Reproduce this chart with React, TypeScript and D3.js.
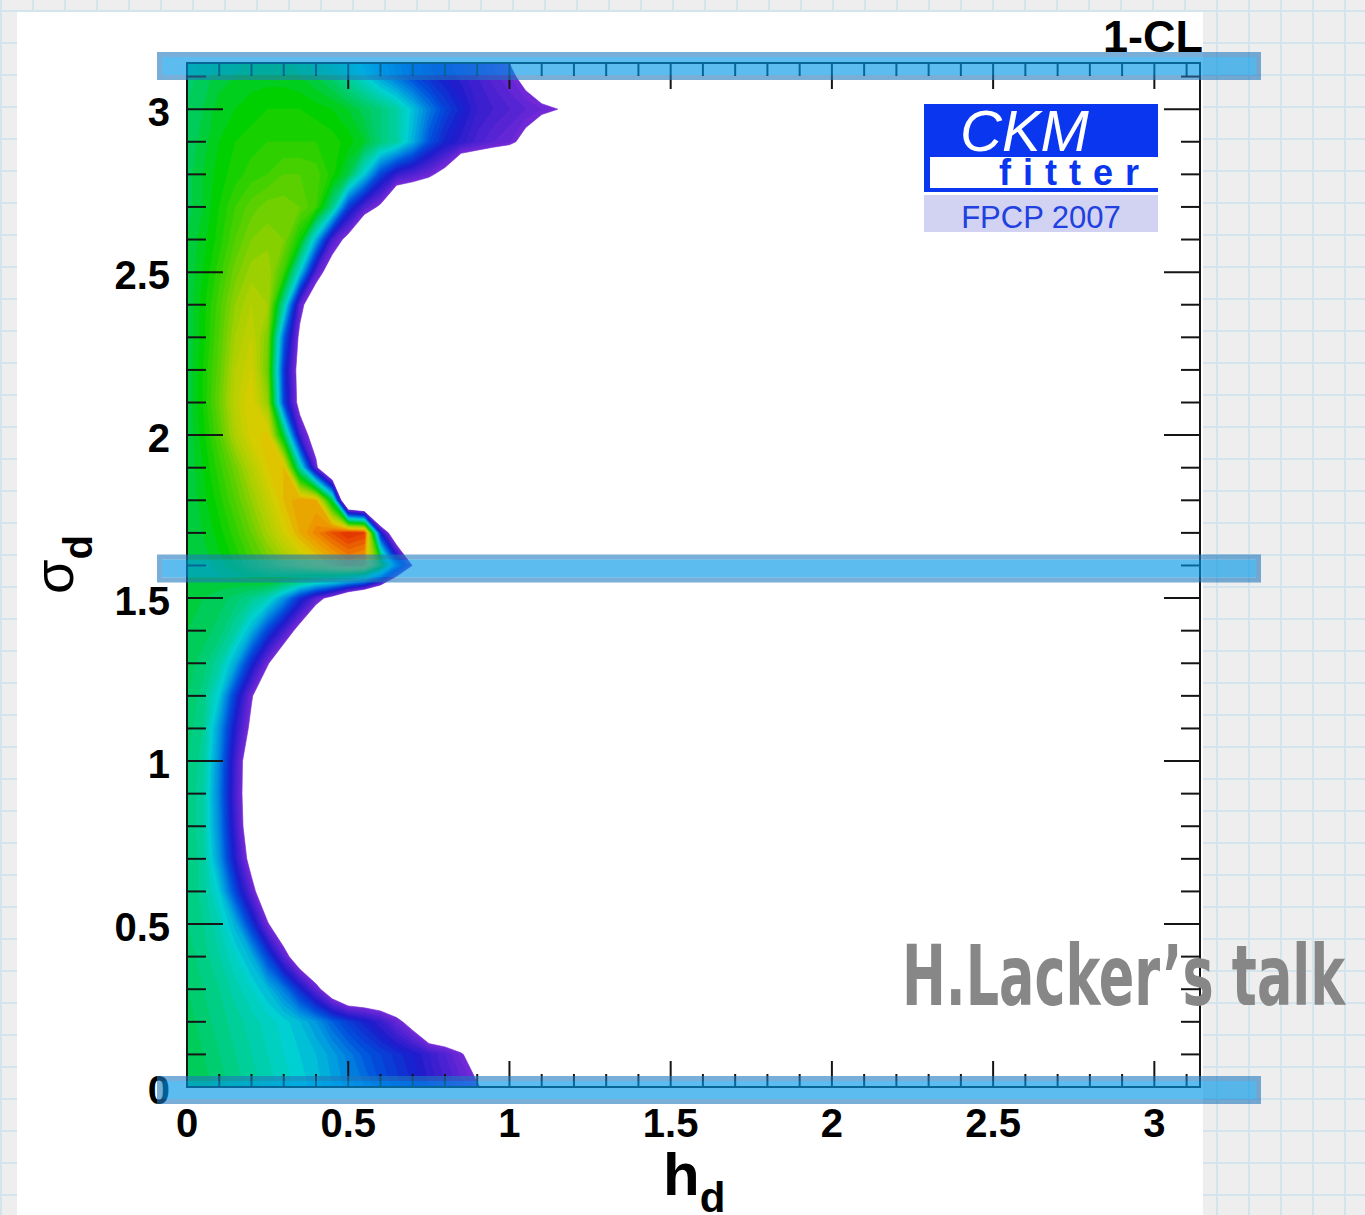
import React from 'react';
import * as d3 from 'd3';

// 1-CL on a regular grid.
// columns: h_d = 0, 0.05, ... 1.2   rows: sigma_d = 0, 0.1, ... 3.2
// E = empty bin (below the palette, drawn white)
const E = -0.2;
const hStep = 0.05;
const sigmaStep = 0.1;
const clRows: number[][] = [
  [.50, .49, .47, .45, .43, .41, .39, .37, .35, .32, .29, .26, .22, .19, .16, .12, .08, .05, .01, -.05, E, E, E, E, E],
  [.50, .48, .46, .44, .42, .40, .38, .36, .34, .31, .27, .23, .20, .17, .14, .10, .06, .01, -.06, E, E, E, E, E, E],
  [.49, .47, .45, .43, .41, .39, .37, .34, .30, .24, .19, .15, .10, .03, -.05, E, E, E, E, E, E, E, E, E, E],
  [.48, .46, .44, .41, .38, .34, .27, .16, .04, -.10, E, E, E, E, E, E, E, E, E, E, E, E, E, E, E],
  [.47, .45, .42, .38, .33, .20, .05, -.10, E, E, E, E, E, E, E, E, E, E, E, E, E, E, E, E, E],
  [.46, .44, .40, .33, .18, .01, -.12, E, E, E, E, E, E, E, E, E, E, E, E, E, E, E, E, E, E],
  [.46, .43, .36, .20, .04, -.12, E, E, E, E, E, E, E, E, E, E, E, E, E, E, E, E, E, E, E],
  [.46, .43, .30, .12, -.05, E, E, E, E, E, E, E, E, E, E, E, E, E, E, E, E, E, E, E, E],
  [.46, .42, .28, .09, -.10, E, E, E, E, E, E, E, E, E, E, E, E, E, E, E, E, E, E, E, E],
  [.46, .42, .27, .07, -.10, E, E, E, E, E, E, E, E, E, E, E, E, E, E, E, E, E, E, E, E],
  [.46, .43, .28, .08, -.10, E, E, E, E, E, E, E, E, E, E, E, E, E, E, E, E, E, E, E, E],
  [.47, .44, .30, .12, -.03, E, E, E, E, E, E, E, E, E, E, E, E, E, E, E, E, E, E, E, E],
  [.48, .45, .36, .18, .01, -.12, E, E, E, E, E, E, E, E, E, E, E, E, E, E, E, E, E, E, E],
  [.49, .47, .42, .32, .16, .01, -.12, E, E, E, E, E, E, E, E, E, E, E, E, E, E, E, E, E, E],
  [.50, .49, .47, .42, .33, .20, .08, -.05, E, E, E, E, E, E, E, E, E, E, E, E, E, E, E, E, E],
  [.50, .50, .49, .47, .44, .40, .30, .17, .05, -.05, -.20, -.30, -.40, -.50, -.60, E, E, E, E, E, E, E, E, E, E],
  [.50, .51, .53, .56, .60, .64, .68, .72, .76, .80, .84, .82, .60, .25, -.01, -.15, E, E, E, E, E, E, E, E, E],
  [.50, .52, .55, .59, .64, .70, .76, .82, .87, .92, .96, .94, .15, -.15, -.20, E, E, E, E, E, E, E, E, E, E],
  [.50, .53, .57, .62, .68, .74, .80, .84, .82, .50, -.40, -.50, -.60, E, E, E, E, E, E, E, E, E, E, E, E],
  [.50, .54, .59, .65, .72, .78, .80, .42, .03, -.30, E, E, E, E, E, E, E, E, E, E, E, E, E, E, E],
  [.50, .55, .62, .71, .77, .79, .50, .08, -.08, E, E, E, E, E, E, E, E, E, E, E, E, E, E, E, E],
  [.50, .56, .64, .73, .78, .68, .20, -.05, E, E, E, E, E, E, E, E, E, E, E, E, E, E, E, E, E],
  [.50, .56, .63, .72, .76, .64, .18, -.06, E, E, E, E, E, E, E, E, E, E, E, E, E, E, E, E, E],
  [.50, .55, .62, .70, .74, .66, .24, -.03, E, E, E, E, E, E, E, E, E, E, E, E, E, E, E, E, E],
  [.50, .55, .61, .68, .72, .70, .42, .04, -.12, E, E, E, E, E, E, E, E, E, E, E, E, E, E, E, E],
  [.50, .54, .59, .65, .69, .70, .60, .36, .06, -.08, E, E, E, E, E, E, E, E, E, E, E, E, E, E, E],
  [.50, .53, .57, .62, .66, .67, .66, .56, .33, .07, -.04, E, E, E, E, E, E, E, E, E, E, E, E, E, E],
  [.49, .52, .56, .60, .63, .65, .65, .64, .60, .45, .19, .06, -.02, E, E, E, E, E, E, E, E, E, E, E, E],
  [.49, .52, .55, .57, .59, .60, .62, .62, .61, .57, .50, .36, .20, .10, .06, .02, -.04, E, E, E, E, E, E, E, E],
  [.48, .51, .54, .56, .57, .58, .58, .58, .58, .57, .55, .52, .46, .42, .33, .22, .15, .11, .07, .04, .02, -.03, -.10, -.15, E],
  [.48, .50, .53, .54, .55, .56, .56, .56, .55, .54, .52, .49, .46, .42, .35, .27, .20, .15, .10, .08, .06, .04, .02, .00, -.08],
  [.47, .49, .51, .52, .53, .53, .53, .52, .50, .47, .42, .37, .31, .26, .21, .17, .14, .11, .08, .05, .02, -.03, -.10, -.15, E],
  [.47, .49, .50, .51, .52, .52, .52, .50, .47, .43, .38, .33, .28, .23, .19, .15, .12, .09, .06, .02, -.03, -.10, -.15, E, E],
];

const xTickLabels = ['0', '0.5', '1', '1.5', '2', '2.5', '3'];
const yTickLabels = ['0', '0.5', '1', '1.5', '2', '2.5', '3'];
// sigma_d rows marked by the blue bars on the slide
const markedRows = [0, 1.6, Math.PI];

// ROOT-like rainbow palette for 1-CL
const paletteStops = [0, 0.07, 0.14, 0.22, 0.3, 0.37, 0.43, 0.49, 0.55, 0.62, 0.7, 0.78, 0.86, 0.93, 1];
const paletteColors = ['#782ad8', '#4a22d2', '#1a1ccc', '#0050dc', '#0096e0', '#00d0d2', '#00cf9a', '#00cc5a',
  '#00d000', '#50d000', '#a8d000', '#dccc00', '#f09000', '#e84800', '#d81000'];

const W = 1365;
const H = 1215;
const font = "'Liberation Sans', Arial, Helvetica, sans-serif";

const App = () => {
  const x = d3.scaleLinear().domain([0, Math.PI]).range([187, 1200]);
  const y = d3.scaleLinear().domain([0, Math.PI]).range([1087, 63]);
  const color = d3.scaleLinear<string>().domain(paletteStops).range(paletteColors).interpolate(d3.interpolateRgb);

  const nx = clRows[0].length;
  const ny = clRows.length;
  const levels = d3.range(0, 1, 0.02);
  const bands = d3.contours().size([nx, ny]).thresholds(levels)(clRows.flat());
  const proj = d3.geoTransform({
    point: function (px: number, py: number) {
      // grid value i sits at contour coordinate i + 0.5
      (this as any).stream.point(x((px - 0.5) * hStep), y((py - 0.5) * sigmaStep));
    },
  });
  const path = d3.geoPath(proj as any);

  const ticks = d3.range(0, 32).map(i => ({ v: i / 10, major: i % 5 === 0 }));
  const [x0, x1] = x.range();
  const [y0, y1] = y.range(); // bottom, top

  const gridX = d3.range(1, W, 32);
  const gridY = d3.range(11, H, 32);

  const barL = 157, barR = 1261, barH = 28, bw = 5;

  return (
    <svg width={W} height={H} style={{ position: 'absolute', left: 0, top: 0, display: 'block' }}>
      <defs>
        <clipPath id="plotArea">
          <rect x={x0} y={y1} width={x1 - x0} height={y0 - y1} />
        </clipPath>
      </defs>

      {/* slide background */}
      <rect width={W} height={H} fill="#eeeeee" />
      {gridX.map(v => <line key={'gx' + v} x1={v} x2={v} y1={0} y2={H} stroke="#d3e4ec" strokeWidth={2} />)}
      {gridY.map(v => <line key={'gy' + v} x1={0} x2={W} y1={v} y2={v} stroke="#d3e4ec" strokeWidth={2} />)}
      <rect x={17} y={12} width={1186} height={H - 12} fill="#ffffff" />

      {/* 1-CL map */}
      <g clipPath="url(#plotArea)">
        {bands.map((c, i) => (
          <path key={i} d={path(c as any) || ''} fill={color(Math.min(1, c.value + 0.01))} stroke={color(Math.min(1, c.value + 0.01))} strokeWidth={0.6} />
        ))}
      </g>

      {/* frame and ticks */}
      <g stroke="#151515" strokeWidth={2}>
        <rect x={x0} y={y1} width={x1 - x0} height={y0 - y1} fill="none" />
        {ticks.map(t => (
          <g key={'t' + t.v}>
            <line x1={x0} x2={x0 + (t.major ? 36 : 19)} y1={y(t.v)} y2={y(t.v)} />
            <line x1={x1} x2={x1 - (t.major ? 36 : 19)} y1={y(t.v)} y2={y(t.v)} />
            <line x1={x(t.v)} x2={x(t.v)} y1={y0} y2={y0 - (t.major ? 26 : 13)} />
            <line x1={x(t.v)} x2={x(t.v)} y1={y1} y2={y1 + (t.major ? 26 : 13)} />
          </g>
        ))}
      </g>

      <g fontFamily={font} fontWeight="bold" fontSize={40} fill="#000">
        {yTickLabels.map(l => (
          <text key={'yl' + l} x={170} y={y(+l) + 17} textAnchor="end">{l}</text>
        ))}
        {xTickLabels.map(l => (
          <text key={'xl' + l} x={x(+l)} y={1137} textAnchor="middle">{l}</text>
        ))}
        <text x={1203} y={52} textAnchor="end" fontSize={45}>1-CL</text>
        <text x={663} y={1195} fontSize={60}>h<tspan dy={17} fontSize={42}>d</tspan></text>
      </g>
      <text transform="translate(73,594) rotate(-90)" fontFamily={font} fontSize={56} fill="#000">
        σ<tspan dy={19} fontSize={40} fontWeight="bold">d</tspan>
      </text>

      {/* CKMfitter logo */}
      <g fontFamily={font}>
        <rect x={924} y={104} width={234} height={53} fill="#0a36f0" />
        <text x={960} y={151} fill="#ffffff" fontSize={58} fontStyle="italic">CKM</text>
        <rect x={924} y={157} width={6} height={35} fill="#0a36f0" />
        <rect x={924} y={188} width={234} height={4} fill="#0a36f0" />
        <text x={999} y={185} fill="#0a36f0" fontSize={36} fontWeight="bold" letterSpacing={12}>fitter</text>
        <rect x={924} y={195} width={234} height={37} fill="#d2d2f2" />
        <text x={1041} y={228} fill="#2040e0" fontSize={31} textAnchor="middle">FPCP 2007</text>
      </g>

      <text x={902} y={1005} fill="#878787" fontFamily="'DejaVu Sans Condensed', 'DejaVu Sans', sans-serif"
        fontWeight="bold" fontSize={84} textLength={443} lengthAdjust="spacingAndGlyphs">H.Lacker’s talk</text>

      {/* highlight bars */}
      {markedRows.map(v => {
        const cy = y(v) + 3;
        const t = cy - barH / 2, b = cy + barH / 2;
        const frame = `M${barL},${t}H${barR}V${b}H${barL}Z M${barL + bw},${t + bw}V${b - bw}H${barR - bw}V${t + bw}Z`;
        return (
          <g key={'bar' + v}>
            <path d={frame} fill="rgba(30,120,190,0.6)" fillRule="evenodd" />
            <rect x={barL + bw} y={t + bw} width={barR - barL - 2 * bw} height={barH - 2 * bw} fill="rgba(0,150,230,0.635)" />
          </g>
        );
      })}
    </svg>
  );
};

export default App;
